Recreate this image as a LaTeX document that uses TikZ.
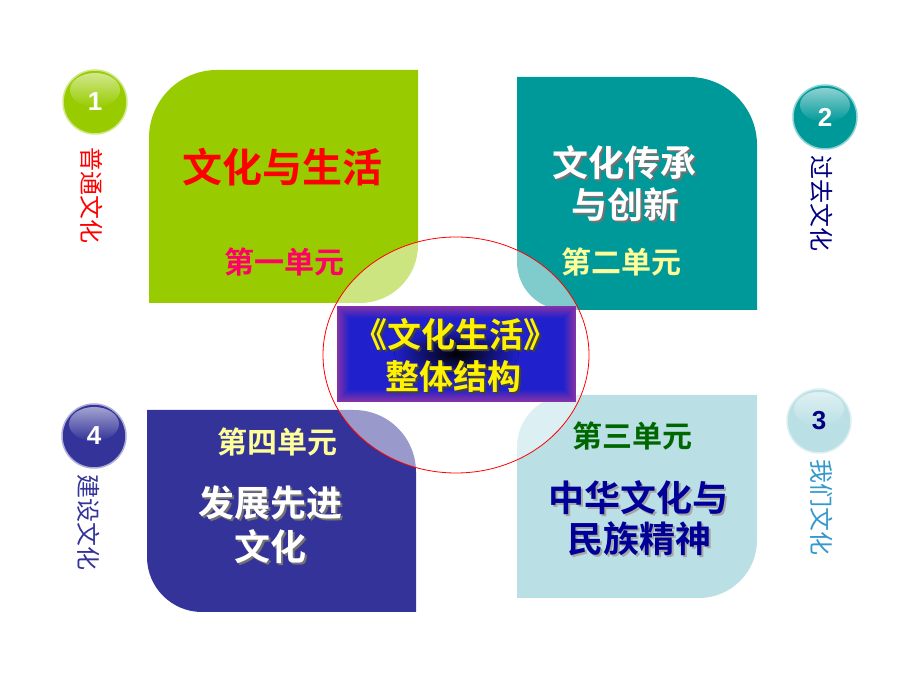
\documentclass[tikz,border=0pt]{standalone}
\usepackage{fontspec}
\usetikzlibrary{shapes.geometric,fadings}
\setmainfont{Liberation Sans}
\newfontfamily\cjk{Noto Sans CJK SC}
\newfontfamily\cjkb{Noto Sans CJK SC Bold}
\definecolor{cgreen}{HTML}{99CC00}
\definecolor{cteal}{HTML}{009999}
\definecolor{cnavy}{HTML}{333399}
\definecolor{clight}{HTML}{BAE0E5}
\definecolor{cpink}{HTML}{FF0066}
\definecolor{cyel}{HTML}{FFFF99}
\definecolor{cdgreen}{HTML}{006600}
\definecolor{cdblue}{HTML}{000099}
\definecolor{cside2}{HTML}{000080}
\definecolor{cside3}{HTML}{3399CC}
\definecolor{cblue}{HTML}{2020CC}
\definecolor{cpurp}{HTML}{8433A8}
\newcommand\shtext[2]{\makebox[0pt][l]{\hspace{2pt}\raisebox{-2pt}{\textcolor{#1}{#2}}}#2}
\begin{document}
\begin{tikzpicture}[x=1pt,y=1pt,
  big/.style={font=\cjkb\fontsize{36}{40}\selectfont, inner sep=0},
  unitlbl/.style={font=\cjkb\fontsize{30}{34}\selectfont, inner sep=0},
  sidelbl/.style={font=\cjk\fontsize{24}{26}\selectfont, inner sep=0, rotate=-90},
  numlbl/.style={font=\bfseries\fontsize{26}{28}\selectfont, inner sep=0},
  ctrlbl/.style={font=\cjkb\fontsize{34}{38}\selectfont, inner sep=0},
  numcircle/.style={circle, minimum size=64, inner sep=0},
  gloss/.style={white, path fading=south, fill opacity=0.55},
]
\useasboundingbox[fill=white] (0,0) rectangle (920,690);

% boxes
\fill[cgreen] (149,387) -- (149,552) arc(180:90:68) -- (418,620) -- (418,445) arc(0:-90:58) -- cycle;
\fill[cteal] (517,428) -- (517,613) -- (689,613) arc(90:0:68) -- (757,380) -- (565,380) arc(270:180:48) -- cycle;
\fill[cnavy] (147,280) -- (354,280) arc(90:0:62) -- (416,78) -- (202,78) arc(270:180:55) -- cycle;
\fill[clight] (517,92) -- (517,243) arc(180:90:52) -- (757,295) -- (757,150) arc(0:-90:58) -- cycle;

% overlay ellipse
\node[draw=red, line width=0.8pt, fill=white, fill opacity=0.5, draw opacity=1, ellipse, minimum width=266, minimum height=236, inner sep=0] (ring) at (456,335) {};

% central rectangle with rectangular gradient
\node[rectangle, minimum width=239, minimum height=96, inner sep=0, fill=cpurp] (ctr) at (456.5,336) {};
\foreach \i in {1,...,12}{
  \pgfmathsetmacro\p{\i*100/12}
  \fill[cblue!\p!cpurp] ([shift={(\i,\i)}]ctr.south west) rectangle ([shift={(-\i,-\i)}]ctr.north east);
}
\fill[inner color=black, outer color=cblue] (456.5,336) ellipse (62 and 26);
\node[ctrlbl, text=yellow] (c1) at (455,355) {\shtext{black!75}{《文化生活》}};
\node[ctrlbl, text=yellow] (c2) at (453,312) {\shtext{black!75}{整体结构}};

% box texts
\node[font=\cjkb\fontsize{40}{44}\selectfont, inner sep=0, text=red] (t1) at (282,523) {文化与生活};
\node[unitlbl, text=cpink] (u1) at (284,428) {第一单元};

\node[big, text=white] (t2a) at (624,526) {\shtext{black!55}{文化传承}};
\node[big, text=white] (t2b) at (625,484) {\shtext{black!55}{与创新}};
\node[unitlbl, text=cyel] (u2) at (621,428) {第二单元};

\node[unitlbl, text=cyel] (u4) at (277,248) {第四单元};
\node[big, text=white] (t4a) at (270,186) {\shtext{black!55}{发展先进}};
\node[big, text=white] (t4b) at (270,142) {\shtext{black!55}{文化}};

\node[unitlbl, text=cdgreen] (u3) at (632,254) {第三单元};
\node[big, text=cdblue] (t3a) at (638,191) {\shtext{black!35}{中华文化与}};
\node[big, text=cdblue] (t3b) at (639,150) {\shtext{black!35}{民族精神}};

% number circles
\node[numcircle, fill=cgreen, draw=cgreen!45!white, line width=1.5pt] (n1) at (95,588) {};
\fill[gloss] (95,600) ellipse (25 and 17);
\node[numlbl, text=white] (n1t) at (n1) {1};

\node[numcircle, fill=cteal, draw=cteal!45!white, line width=1.5pt] (n2) at (825,573) {};
\fill[gloss] (825,585) ellipse (25 and 17);
\node[numlbl, text=white] (n2t) at (n2) {2};

\node[numcircle, fill=cnavy, draw=cnavy!40!white, line width=1.5pt] (n4) at (94,254) {};
\fill[gloss] (94,266) ellipse (25 and 17);
\node[numlbl, text=white] (n4t) at (n4) {4};

\node[numcircle, fill=clight, draw=clight!50!white, line width=1.5pt] (n3) at (819,269) {};
\fill[gloss] (819,281) ellipse (25 and 17);
\node[numlbl, text=cside2] (n3t) at (n3) {3};

% side labels
\node[sidelbl, text=red] (s1) at (91.5,494) {普通文化};
\node[sidelbl, text=cside2] (s2) at (822,486) {过去文化};
\node[sidelbl, text=cnavy] (s4) at (89,167) {建设文化};
\node[sidelbl, text=cside3] (s3) at (822,182) {我们文化};
\end{tikzpicture}
\end{document}
